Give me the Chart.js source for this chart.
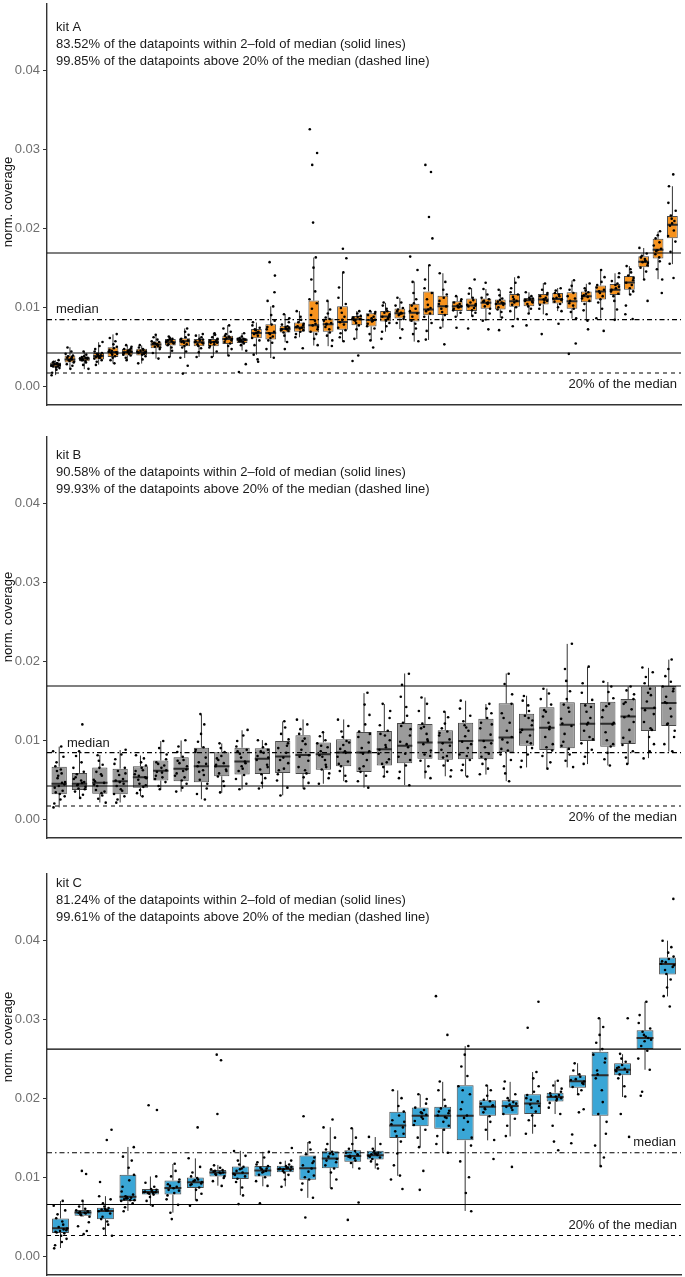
<!DOCTYPE html>
<html><head><meta charset="utf-8">
<script src="https://cdn.jsdelivr.net/npm/chart.js@4.4.1/dist/chart.umd.min.js"></script>
<style>
html,body{margin:0;padding:0;background:#fff;width:685px;height:1277px;overflow:hidden;position:relative}
canvas{position:absolute;left:0}
</style></head><body>
<canvas id="cA" width="685" height="409" style="top:0px"></canvas>
<canvas id="cB" width="685" height="409" style="top:433px"></canvas>
<canvas id="cC" width="685" height="409" style="top:870px"></canvas>
<script>
// ---------------- DATA (values in units of 1e-4 normalised coverage) ----------------
const TICK_VALUES = [0, 0.01, 0.02, 0.03, 0.04];
const TICK_LABELS = ['0.00', '0.01', '0.02', '0.03', '0.04'];
const Y_TITLE = 'norm. coverage';

const KIT_A_TEXT = ['kit A', '83.52% of the datapoints within 2\u2013fold of median (solid lines)', '99.85% of the datapoints above 20% of the median (dashed line)'];
const KIT_B_TEXT = ['kit B', '90.58% of the datapoints within 2\u2013fold of median (solid lines)', '99.93% of the datapoints above 20% of the median (dashed line)'];
const KIT_C_TEXT = ['kit C', '81.24% of the datapoints within 2\u2013fold of median (solid lines)', '99.61% of the datapoints above 20% of the median (dashed line)'];
const MEDIAN_LABEL = 'median';
const PCT20_LABEL = '20% of the median';

const KIT_A_MEDIAN = 0.00843;
const KIT_B_MEDIAN = 0.00843;
const KIT_C_MEDIAN = 0.0131;

// box stats per sample: [q1, median, q3, whisker low, whisker high]
const KIT_A_BOX = [
[24.1,27.4,29.9,14.1,32.8],[29.9,34,39,22.4,49.4],[31.6,34.9,37.4,21.6,44],[34,38.2,42,27.4,55.7],[37,43.2,49.4,28.7,65.6],
[39,43.2,47.4,32.8,51.5],[39,43,47.4,28.7,51.5],[48.2,52.7,56.5,34.9,64.8],[51.5,55.7,59.8,37,62.7],[50.7,56.9,60.6,35.7,73.1],
[50.7,55.7,59.8,37,66],[50.7,56,59.8,37,67.3],[53.6,59.8,64,39,77.3],[54.8,58.6,60.6,45.3,67.3],[60.6,67.3,72.3,39.9,80.6],
[59,67.3,78.5,35.7,101],[68.1,72.3,76.4,55.7,91],[69,74.3,80.6,61.9,95.1],[68.1,77.3,108.4,51.5,162.8],[69,78.5,85.6,50.7,107.6],
[71.4,81.4,101.3,56.5,143.7],[77.3,84.7,88.9,59.8,95.1],[75.6,83.9,92.2,57.7,95.1],[81.8,88.1,95.1,69,105.5],[85.6,92.2,98.4,72.3,111.7],
[81.8,93,104.3,56.5,132.5],[89.7,97.2,120,58.6,153.3],[90.1,101.3,114.6,74.3,142.9],[95.1,101.3,107.6,88.1,113.8],[95.1,102.2,110.9,88.9,124.2],
[98,105.5,110.9,82.7,123],[97.2,104.3,109.7,86.8,122],[100.5,107.6,116.7,84.7,137.9],[101.3,108.8,111.7,92.2,118.8],[103.4,109.7,116.7,91,130.4],
[104.7,110.5,118,95.1,124.2],[98,107.6,118.8,85.6,133.7],[106.3,113.8,120,82.7,129.6],[109.7,120,127.5,85.6,147],[115.5,122.1,129.2,83.9,142.9],
[122.1,131.3,139.6,115.9,152],[150.4,157.4,164.5,134.6,174.9],[161.6,172.8,186.5,135.4,195.6],[187.3,204.4,215.2,154.5,253]
];
const KIT_A_POINTS = [
[14,17,21,23,24,25,26,27,27,28,29,29,30,31,33,26,28,25],[22,26,28,30,31,33,34,35,36,38,39,41,44,49,32,37],[22,27,30,32,33,34,35,35,36,37,38,40,44,33,36],
[27,31,33,35,36,37,38,39,40,41,42,44,47,51,56,36,39],[29,33,36,38,40,42,43,44,46,48,50,53,57,61,66,41,45],[33,36,39,40,42,43,44,45,46,47,48,50,52,41,45],
[29,34,38,40,41,42,43,44,45,46,47,49,52,42,44],[35,42,47,49,50,52,53,54,55,56,57,59,62,65,51,54],[37,45,49,52,53,55,56,57,58,59,60,61,63,54,57],
[16,26,36,44,49,51,53,55,57,58,59,60,62,65,69,73,56],[37,43,48,51,53,55,56,57,58,59,60,62,64,66,54],[37,44,49,51,53,55,56,57,58,59,60,62,65,67,55],
[39,47,51,54,56,58,60,61,62,63,64,66,69,73,77,59],[18,28,45,52,54,56,57,58,59,60,60,61,63,67,57,59],[31,34,40,52,58,61,64,66,67,69,71,72,74,77,81,68],
[36,47,55,58,61,63,66,67,69,72,75,78,83,90,101,108,119,140,157],[47,56,64,68,70,71,72,73,74,75,76,78,81,86,91,72],
[48,62,66,69,71,73,74,75,77,79,81,84,88,95,76],[52,60,66,69,72,75,77,79,83,90,98,105,110,120,135,150,163,207,280,295,325],
[51,58,64,68,72,75,78,80,83,85,87,92,97,108,79],[57,62,67,71,74,78,81,84,88,93,99,104,112,125,144,162,174],
[32,39,60,72,77,80,83,85,86,87,88,89,92,95,84],[49,58,66,73,76,79,82,84,86,88,90,92,94,95,83],[60,69,76,80,83,86,88,89,91,93,95,98,102,106,87],
[61,72,80,85,88,90,92,93,95,97,99,102,106,112,91],[57,66,73,79,83,88,92,95,98,102,105,110,118,132,147,164],
[59,70,80,88,92,95,97,99,103,110,118,124,135,153,187,214,271,280],[53,74,84,90,94,98,101,104,108,112,116,122,132,143],
[74,88,93,96,98,100,101,102,104,106,108,110,114,100],[73,89,93,96,99,101,102,104,106,109,112,117,124,135,103],
[72,83,92,98,101,104,105,107,108,110,112,116,123,131,106],[71,87,94,97,100,103,104,106,107,109,111,115,122,105],
[76,85,95,100,103,106,108,110,113,116,119,124,131,138],[77,92,98,101,104,107,108,109,110,111,112,114,119,106],
[66,91,98,103,106,108,110,112,114,116,118,122,130,109],[79,95,100,104,107,109,110,112,114,116,118,121,124,111],
[41,54,86,94,98,102,105,108,111,114,118,122,127,134],[72,83,96,104,108,111,113,115,117,119,121,124,130,114],
[70,86,98,106,110,114,118,120,122,125,128,132,138,147],[84,97,108,114,117,120,122,124,126,128,130,133,138,143],
[85,91,102,116,120,124,128,131,134,137,140,144,148,152],[108,135,145,150,153,156,157,159,161,163,165,168,175,158],
[118,135,148,158,163,167,171,174,178,182,187,191,196,172],[137,155,170,183,190,197,203,206,209,212,216,222,232,253,268]
];

const KIT_B_BOX = [
[31.6,44.9,66.5,15,91.8],[37,44.9,58.6,27.4,85.6],[32.4,46.1,65.6,21.2,81.4],[31.6,48.2,64,21.2,87.6],[39.9,53.2,66.9,29.1,80.6],
[49,61.5,74.4,37.8,98.9],[48.2,64,78.5,34.9,99.7],[46.9,66.9,90.5,25.3,132.5],[54.4,66.9,84.7,33.6,95.9],[56.5,73.1,90.5,37.8,112.6],
[57.3,76.4,89.7,39,100.1],[58.6,79.3,98.9,30.3,123.8],[57.3,81.4,106.3,38.6,126.3],[62.7,82.2,97.2,44.9,109.7],[66.9,84.3,101.3,48.2,126.3],
[59.8,84.3,110.5,39.9,159.5],[68.1,88.5,111.7,54.4,145.8],[71,93,121.7,43.2,184.4],[76.4,97.2,120.5,51.5,154.1],[75.2,97.2,112.6,54.4,136.2],
[76,98.9,122.1,54.4,149.9],[76,99.7,127.1,56.5,145.8],[84.7,103.4,146.6,48.2,184.4],[93,113.4,133.3,65.6,156.2],[87.6,115.9,141.6,64,165.3],
[89.7,119.6,147.9,65.6,221.8],[98.9,120.9,147,69.8,192.7],[91.8,120.9,148.7,68.1,173.6],[95.1,130,152,69.8,167.8],[111.7,140.4,167.8,77.3,191.5],
[118,147,168.6,85.6,201.9]
];
const KIT_B_POINTS = [
[15,20,25,29,32,36,40,44,47,52,58,63,67,72,79,86,92,34,42,46,55,61],[27,31,35,38,41,44,46,49,53,57,60,65,72,80,86,120,39,43,47,51],[21,26,30,33,37,42,46,50,55,60,65,69,74,81,35,44,48,57],
[21,25,29,32,36,42,47,51,56,61,65,70,76,82,88,38,45,49,58],[29,33,37,41,45,50,53,57,61,65,68,72,77,81,43,52,55,62],[38,42,47,51,55,59,62,65,68,72,76,82,90,99,53,60,70],
[35,40,45,49,53,58,63,67,71,75,79,85,92,100,55,61,74],[25,32,39,45,50,56,62,67,72,78,85,91,98,108,120,133,60,70,88],[34,42,48,54,58,63,67,71,75,80,85,90,96,61,69,77],
[38,45,51,56,61,67,73,78,83,88,92,99,106,113,64,71,86],[39,46,52,57,63,69,75,80,84,88,91,95,100,66,78,86],[30,40,49,57,64,71,78,84,90,96,101,108,116,124,62,75,93],
[39,46,53,58,66,74,81,88,95,102,108,114,120,126,62,79,99],[45,52,58,63,69,75,81,86,91,96,100,105,110,66,79,93],[48,55,61,67,73,79,84,89,94,99,104,111,118,126,70,86,97],
[40,48,55,60,67,75,83,90,97,104,111,120,132,145,160,64,86,108],[54,60,66,70,76,83,88,94,100,106,112,119,128,137,146,72,91,108],
[43,52,60,68,75,83,91,98,106,114,122,131,142,155,170,184,79,95,118],[52,60,67,74,80,87,95,101,108,115,121,128,137,146,154,82,99,117],
[54,62,68,74,80,88,96,101,106,111,115,121,129,136,78,93,109],[54,62,69,75,82,90,98,105,112,119,124,131,140,150,80,95,116],
[57,64,70,76,83,91,99,107,115,122,128,134,140,146,79,96,120],[48,58,67,75,82,89,97,104,112,122,134,146,158,171,184,87,101,128],
[66,74,82,90,98,106,113,119,125,131,137,144,150,156,96,110,128],[64,72,80,87,95,104,114,122,130,138,145,152,159,165,91,117,136],
[66,74,82,89,98,108,118,127,136,145,152,162,175,190,222,93,121,141],[70,79,88,96,104,112,120,128,136,144,151,160,172,193,101,122,142],
[68,76,84,92,100,110,120,129,138,146,153,161,168,174,95,122,143],[70,78,86,94,103,113,123,131,139,146,152,158,163,168,98,129,148],
[77,86,95,104,113,123,133,141,149,157,165,172,180,186,192,115,138,160],[86,95,104,112,120,130,140,148,155,162,168,174,181,190,202,121,147,165]
];

const KIT_C_BOX = [
[29.5,35.3,47.8,10.4,69.8],[51.1,55.2,58.6,50,69.8],[46.9,57.3,61.5,26.2,76],[69.8,75.2,103,57.3,138.3],[78.1,81.4,85.1,63.6,100.9],
[78.1,86.4,95.9,55.2,116.7],[86.4,93.5,99.7,71,123.8],[100.9,105.9,109.2,89.3,115.5],[97.6,105.1,113.4,77.3,133.3],[100.9,108.4,114.2,88.5,132.1],
[106.3,110.5,114.6,88.5,120.9],[96.8,111.3,127.5,73.9,144.5],[111.3,123.8,132.9,86.4,163.2],[119.6,126.7,134.2,111.3,162],[122.5,127.9,133.3,110.9,150.8],
[149.5,165.3,182.8,101.8,209.8],[164.5,177.8,188.2,138.3,204.8],[161.2,177.8,189,130.8,220.6],[146.6,177.8,216.4,57.3,265.8],[177.8,189,197.3,146.6,216.4],
[179,190.2,197.3,151.6,220.6],[179.9,193.1,204.8,155,233],[195.6,201.5,206.9,179.9,222.2],[213.1,221.4,228.9,204.8,244.2],[177.8,228.9,258.8,114.2,301.1],
[228.9,235.9,244.2,201.5,255.5],[262.1,276.2,285.8,235.9,321.9],[356.4,369.7,378,328.6,399.2]
];
const KIT_C_POINTS = [
[10,14,18,22,26,29,31,33,35,37,40,44,48,53,58,64,70,30,32,34],[28,32,38,43,50,52,54,55,55,56,57,58,60,63,70,104,108,53,56],
[26,35,40,44,47,50,54,57,58,59,60,61,63,67,72,76,94,147,160,58],[57,62,67,70,71,72,73,74,75,76,78,82,88,96,103,112,121,126,138,71,73],
[64,70,75,78,79,80,81,81,82,83,84,85,88,93,101,185,191,80,82],[47,55,65,72,77,80,83,86,88,91,94,97,101,108,117,84,89],
[64,71,79,84,87,90,92,94,95,97,99,101,106,113,124,163,91,96],[89,95,99,101,103,105,106,107,108,109,110,112,115,180,248,255,104,106],
[66,77,87,94,98,101,104,106,108,110,113,116,121,127,133,103,111],[67,89,95,100,103,106,108,110,112,114,116,119,125,132,107,111],
[88,97,103,106,108,109,110,111,112,113,114,116,118,121,137,110,112],[49,74,84,92,97,102,107,111,115,120,125,129,135,144,177,100,118],
[86,97,106,111,115,119,123,126,129,132,135,142,150,163,173,121,130],[46,68,111,118,121,124,126,127,129,131,133,136,142,150,162,125,128],
[111,116,120,123,125,127,128,129,130,131,133,136,142,151,126,129],[85,97,102,115,130,145,152,158,163,167,172,178,183,190,200,210,155,170],
[84,108,138,150,160,166,171,176,179,182,185,188,193,199,205,174,181],[131,142,152,160,165,170,175,178,181,184,187,190,198,210,221,280,329,176,183],
[57,80,100,120,140,150,160,170,178,186,195,205,215,228,240,255,266,175,210],[123,147,160,170,177,182,187,190,193,196,198,203,210,216,186,191],
[113,152,165,174,180,185,189,192,195,197,200,205,212,221,188,193],[155,165,172,178,183,188,192,196,200,204,208,215,225,233,289,322,190,198],
[134,145,165,180,188,194,197,200,202,204,206,208,212,216,222,199,203],[143,154,182,186,205,210,214,218,221,224,227,230,235,244,219,223],
[114,125,140,155,170,180,195,210,225,235,245,255,262,270,280,290,301,230,250],[151,180,202,215,225,230,233,235,237,239,242,246,250,256,301,234,238],
[203,208,236,250,260,266,272,276,280,284,288,295,305,322,274,278],[316,329,340,350,357,362,366,370,373,376,379,384,391,399,452,368,372]
];

// ---------------- STYLE / LAYOUT ----------------
const UNIT = 1e-4;
const Y_MIN = -0.00237, Y_MAX = 0.04835;
const JIT = [-0.28,0.12,-0.05,0.26,-0.17,0.03,0.21,-0.24,0.08,-0.11,0.29,-0.02,0.17,-0.3,0.06,-0.19,0.23,-0.08,0.14,-0.22,0.1,0.27,-0.13];
const FONT = '"Liberation Sans", Arial, sans-serif';

function makePanel(id, boxStats, points, median, fill, texts, lay) {
  const n = boxStats.length;
  const boxes = boxStats.map((s, i) => ({x: i + 1, y: [s[0] * UNIT, s[2] * UNIT]}));
  const whisk = [], meds = [], pts = [];
  boxStats.forEach((s, i) => {
    whisk.push({x: i + 1, y: s[3] * UNIT}, {x: i + 1, y: s[0] * UNIT}, {x: i + 1, y: null},
               {x: i + 1, y: s[2] * UNIT}, {x: i + 1, y: s[4] * UNIT}, {x: i + 1, y: null});
    meds.push({x: i + 1 - 0.375, y: s[1] * UNIT}, {x: i + 1 + 0.375, y: s[1] * UNIT}, {x: i + 1, y: null});
  });
  points.forEach((arr, i) => arr.forEach((v, j) => {
    pts.push({x: i + 1 + JIT[(j * 7 + i * 5) % JIT.length], y: v * UNIT});
  }));
  const x0 = 0.4, x1 = n + 0.6;
  const ref = (v, dash) => ({type: 'line', order: 0, data: [{x: x0, y: v}, {x: x1, y: v}],
    borderColor: '#000', borderWidth: 1.1, borderDash: dash, pointRadius: 0, fill: false});

  const annot = {
    id: 'annot_' + id,
    afterDraw(chart) {
      const c = chart.ctx, ys = chart.scales.y, ca = chart.chartArea;
      c.save();
      c.font = '13px ' + FONT;
      c.fillStyle = '#1a1a1a';
      c.textBaseline = 'middle';
      c.textAlign = 'left';
      texts.forEach((t, k) => c.fillText(t, ca.left + 9, ca.top + lay.textTop + k * 17));
      c.textAlign = lay.medAlign;
      c.fillText(MEDIAN_LABEL, lay.medAlign === 'left' ? lay.medX : ca.right - 5, ys.getPixelForValue(median) + lay.medDy);
      c.textAlign = 'right';
      c.fillText(PCT20_LABEL, ca.right - 4, ys.getPixelForValue(0.2 * median) + lay.pctDy);
      // y-axis title
      c.save();
      c.translate(8, ca.top + lay.titleY);
      c.rotate(-Math.PI / 2);
      c.textAlign = 'center';
      c.fillStyle = '#111';
      c.fillText(Y_TITLE, 0, 0);
      c.restore();
      c.restore();
    }
  };

  new Chart(document.getElementById(id), {
    type: 'bar',
    data: {datasets: [
      ref(2 * median, []), ref(median / 2, []), ref(median, [5, 3, 1.5, 3]), ref(0.2 * median, [4, 4]),
      {type: 'scatter', order: 1, data: pts, pointRadius: 1.3, pointBackgroundColor: '#000', pointBorderWidth: 0, showLine: false},
      {type: 'line', order: 2, data: meds, borderColor: '#2b2b2b', borderWidth: 2, pointRadius: 0, spanGaps: false},
      {type: 'bar', order: 3, data: boxes, backgroundColor: fill, borderColor: '#4a4a4a', borderWidth: 1,
        borderSkipped: false, barPercentage: 0.75, categoryPercentage: 1, grouped: false},
      {type: 'line', order: 4, data: whisk, borderColor: '#333', borderWidth: 1, pointRadius: 0, spanGaps: false}
    ]},
    options: {
      responsive: false, animation: false, events: [],
      layout: {padding: {top: 0, right: 0, bottom: 2, left: 0}},
      plugins: {legend: {display: false}, tooltip: {enabled: false}},
      scales: {
        x: {type: 'linear', min: x0, max: x1, offset: false,
            ticks: {display: false}, grid: {display: false, drawTicks: false},
            border: {display: true, color: '#333', width: 1.4},
            afterFit(s) { s.height = 0; s.paddingLeft = 0; s.paddingRight = 0; }},
        y: {type: 'linear', min: Y_MIN, max: Y_MAX,
            afterBuildTicks(s) { s.ticks = TICK_VALUES.map(v => ({value: v})); },
            ticks: {callback: (v) => TICK_LABELS[TICK_VALUES.indexOf(v)] ?? '', color: '#6e6e6e',
                    font: {size: 13, family: FONT}, padding: 3},
            grid: {display: true, drawOnChartArea: false, drawTicks: true, tickLength: 4, color: '#333', tickWidth: 1},
            border: {display: true, color: '#333', width: 1.4},
            title: {display: false},
            afterFit(s) { s.width = 47; s.paddingTop = 0; s.paddingBottom = 0; }}
      }
    },
    plugins: [annot]
  });
}

makePanel('cA', KIT_A_BOX, KIT_A_POINTS, KIT_A_MEDIAN, '#f7931e', KIT_A_TEXT,
  {textTop: 23, medAlign: 'left', medX: 56, medDy: -10, pctDy: 11, titleY: 198});
makePanel('cB', KIT_B_BOX, KIT_B_POINTS, KIT_B_MEDIAN, '#9b9b9b', KIT_B_TEXT,
  {textTop: 18, medAlign: 'left', medX: 67, medDy: -9, pctDy: 11, titleY: 180});
makePanel('cC', KIT_C_BOX, KIT_C_POINTS, KIT_C_MEDIAN, '#3aa6d6', KIT_C_TEXT,
  {textTop: 9.5, medAlign: 'right', medX: 0, medDy: -10, pctDy: -10, titleY: 163});
</script>
</body></html>
